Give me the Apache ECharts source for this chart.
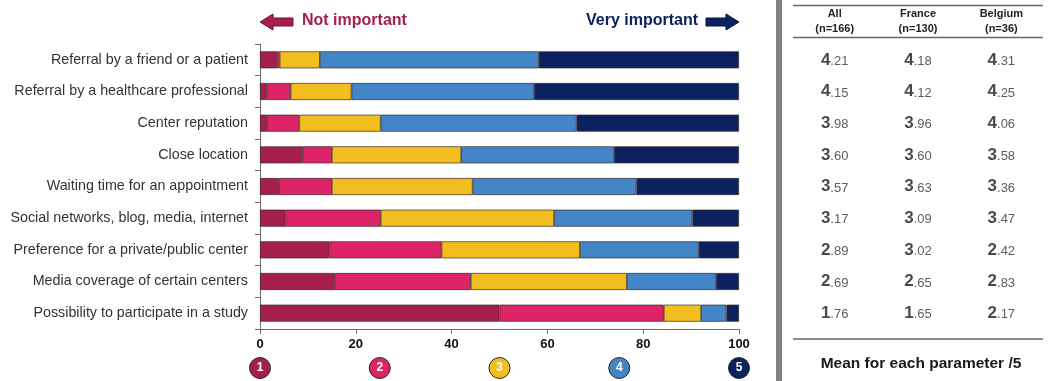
<!DOCTYPE html>
<html>
<head>
<meta charset="utf-8">
<script src="https://cdn.jsdelivr.net/npm/echarts@6/dist/echarts.min.js"></script>
<style>
  html, body { margin: 0; padding: 0; background: #fff; }
  #main { width: 1052px; height: 381px; }
</style>
</head>
<body>
<div id="main"></div>
<script>
// categories (top to bottom)
const categories = [
  'Referral by a friend or a patient',
  'Referral by a healthcare professional',
  'Center reputation',
  'Close location',
  'Waiting time for an appointment',
  'Social networks, blog, media, internet',
  'Preference for a private/public center',
  'Media coverage of certain centers',
  'Possibility to participate in a study'
];

// % of answers for each score 1..5
const score1 = [3.5, 1.4, 1.5, 8.9, 4.0, 5.3, 14.5, 15.7, 50.0];
const score2 = [0.6, 5.0, 6.7, 6.1, 11.0, 19.9, 23.4, 28.3, 34.3];
const score3 = [8.4, 12.7, 17.0, 27.0, 29.4, 36.2, 28.9, 32.6, 7.8];
const score4 = [45.7, 38.1, 40.9, 31.9, 34.2, 28.9, 24.8, 18.6, 5.3];
const score5 = [41.8, 42.8, 33.9, 26.1, 21.4, 9.7, 8.4, 4.8, 2.6];

// mean for each parameter /5
const meanAll = ['4.21', '4.15', '3.98', '3.60', '3.57', '3.17', '2.89', '2.69', '1.76'];
const meanFrance = ['4.18', '4.12', '3.96', '3.60', '3.63', '3.09', '3.02', '2.65', '1.65'];
const meanBelgium = ['4.31', '4.25', '4.06', '3.58', '3.36', '3.47', '2.42', '2.83', '2.17'];
const tableCols = ['All', 'France', 'Belgium'];
const tableN = ['(n=166)', '(n=130)', '(n=36)'];

// score scale markers under the axis
const scoreLabels = ['1', '2', '3', '4', '5'];
const scoreMarks = [0, 25, 50, 75, 100];

const colors = ['#A61E4D', '#DC2467', '#F2BD1F', '#4386C7', '#0C2260'];
const font = 'Liberation Sans, Arial, sans-serif';

const chart = echarts.init(document.getElementById('main'));

const scoreSeries = [score1, score2, score3, score4, score5].map((d, i) => ({
  name: scoreLabels[i],
  type: 'bar',
  stack: 'total',
  barWidth: 17,
  xAxisIndex: 0,
  yAxisIndex: 0,
  itemStyle: { color: colors[i], borderColor: '#3a2a2a', borderWidth: 0.7 },
  data: d
}));

// table values as scatter points on their own grid
const tableData = [];
[meanAll, meanFrance, meanBelgium].forEach((col, c) => {
  col.forEach((v, r) => tableData.push([c, categories[r], v]));
});

const option = {
  animation: false,
  backgroundColor: '#fff',
  grid: [
    { left: 260, right: 313, top: 44, bottom: 52 },
    { left: 793, right: 9, top: 44, bottom: 52 },
    { left: 260, right: 313, top: 358, bottom: 3 }
  ],
  xAxis: [
    {
      gridIndex: 0, type: 'value', min: 0, max: 100, interval: 20,
      splitLine: { show: false },
      axisLine: { show: true, lineStyle: { color: '#6b6b6b', width: 1 } },
      axisTick: { show: true, length: 5, lineStyle: { color: '#6b6b6b' } },
      axisLabel: { color: '#111', fontWeight: 'bold', fontSize: 13, fontFamily: font, margin: 9 }
    },
    {
      gridIndex: 1, type: 'category', data: tableCols, position: 'top',
      axisLine: { show: false }, axisTick: { show: false },
      axisLabel: {
        margin: 8,
        formatter: (v, i) => v + '\n' + tableN[i],
        color: '#222', fontWeight: 'bold', fontSize: 11, lineHeight: 15, fontFamily: font
      }
    },
    { gridIndex: 2, type: 'value', min: 0, max: 100, show: false }
  ],
  yAxis: [
    {
      gridIndex: 0, type: 'category', data: categories, inverse: true,
      axisLine: { show: true, lineStyle: { color: '#6b6b6b', width: 1 } },
      axisTick: { show: true, length: 5, lineStyle: { color: '#6b6b6b' } },
      axisLabel: { color: '#333', fontSize: 14.3, fontFamily: font, margin: 12 }
    },
    { gridIndex: 1, type: 'category', data: categories, inverse: true, show: false },
    { gridIndex: 2, type: 'value', min: -1, max: 1, show: false }
  ],
  series: scoreSeries.concat([
    {
      type: 'scatter',
      xAxisIndex: 1,
      yAxisIndex: 1,
      symbolSize: 0,
      data: tableData,
      label: {
        show: true,
        position: 'inside',
        formatter: p => {
          const parts = p.value[2].split('.');
          return '{big|' + parts[0] + '}{small|.' + parts[1] + '}';
        },
        rich: {
          big: { fontSize: 17, fontWeight: 'bold', color: '#1a1a1a', fontFamily: font },
          small: { fontSize: 13, color: '#333', fontFamily: font, padding: [3, 0, 0, 0] }
        }
      }
    },
    {
      type: 'scatter',
      xAxisIndex: 2,
      yAxisIndex: 2,
      symbolSize: 21,
      data: scoreMarks.map((m, i) => ({
        value: [m, 0],
        itemStyle: { color: colors[i], opacity: 1, borderColor: '#2a2a2a', borderWidth: 1 }
      })),
      label: {
        show: true,
        position: 'inside',
        formatter: p => scoreLabels[p.dataIndex],
        color: '#fff', fontWeight: 'bold', fontSize: 12, fontFamily: font
      }
    }
  ]),
  graphic: [
    // separator bar
    { type: 'rect', shape: { x: 776, y: 0, width: 6, height: 381 }, style: { fill: '#808080' } },
    // table rules
    { type: 'line', shape: { x1: 793, y1: 5.5, x2: 1043, y2: 5.5 }, style: { stroke: '#666', lineWidth: 1.5 } },
    { type: 'line', shape: { x1: 793, y1: 37.5, x2: 1043, y2: 37.5 }, style: { stroke: '#666', lineWidth: 1.5 } },
    { type: 'line', shape: { x1: 793, y1: 339, x2: 1043, y2: 339 }, style: { stroke: '#666', lineWidth: 1.5 } },
    {
      type: 'text', x: 921, y: 364,
      style: {
        text: 'Mean for each parameter /5', fill: '#1a1a1a', font: 'bold 15.5px ' + font,
        textAlign: 'center', textVerticalAlign: 'middle'
      }
    },
    // header arrows and texts
    {
      type: 'polygon',
      shape: { points: [[260, 22], [273, 14], [273, 18], [293, 18], [293, 26], [273, 26], [273, 30]] },
      style: { fill: '#A61E4D', stroke: '#6e1030', lineWidth: 1 }
    },
    {
      type: 'text', x: 302, y: 21,
      style: { text: 'Not important', fill: '#A61E4D', font: 'bold 16px ' + font, textVerticalAlign: 'middle' }
    },
    {
      type: 'polygon',
      shape: { points: [[739, 22], [726, 14], [726, 18], [706, 18], [706, 26], [726, 26], [726, 30]] },
      style: { fill: '#0C2260', stroke: '#06133a', lineWidth: 1 }
    },
    {
      type: 'text', x: 698, y: 21,
      style: {
        text: 'Very important', fill: '#0C2260', font: 'bold 16px ' + font,
        textAlign: 'right', textVerticalAlign: 'middle'
      }
    }
  ]
};

chart.setOption(option);
</script>
</body>
</html>
